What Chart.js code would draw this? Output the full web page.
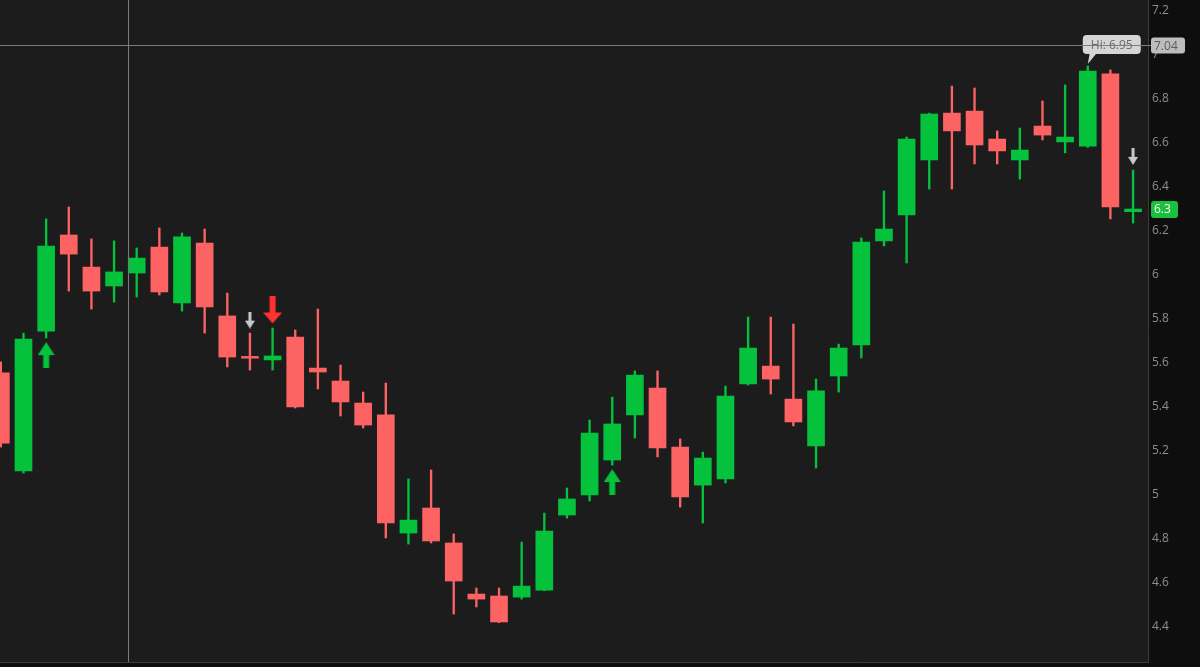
<!DOCTYPE html>
<html>
<head>
<meta charset="utf-8">
<script src="https://cdn.jsdelivr.net/npm/chart.js@4.4.1/dist/chart.umd.min.js"></script>
<style>
  html, body { margin: 0; padding: 0; background: #0e0e0e; }
  #wrap { width: 1200px; height: 667px; }
</style>
</head>
<body>
<div id="wrap"><canvas id="c" width="1200" height="667"></canvas></div>
<script>
// ---- data ----
const candleIndex = [-1,0,1,2,3,4,5,6,7,8,9,10,11,12,13,14,15,16,17,18,19,20,21,22,23,24,25,26,27,28,29,30,31,32,33,34,35,36,37,38,39,40,41,42,43,44,45,46,47,48,49];
const openVals  = [5.555,5.109,5.745,6.182,6.036,5.950,6.009,6.127,5.873,6.145,5.814,5.630,5.614,5.718,5.577,5.518,5.418,5.364,4.827,4.941,4.782,4.550,4.541,4.536,4.568,4.909,5.000,5.159,5.364,5.486,5.218,5.045,5.073,5.505,5.586,5.436,5.223,5.541,5.682,6.155,6.273,6.523,6.736,6.745,6.618,6.523,6.677,6.605,6.586,6.914,6.288];
const highVals  = [5.605,5.736,6.255,6.309,6.164,6.155,6.123,6.214,6.191,6.209,5.918,5.736,5.759,5.750,5.845,5.591,5.468,5.509,5.073,5.114,4.823,4.577,4.577,4.786,4.918,5.032,5.341,5.445,5.564,5.564,5.255,5.195,5.495,5.809,5.809,5.777,5.527,5.686,6.168,6.382,6.627,6.736,6.859,6.850,6.655,6.668,6.791,6.864,6.950,6.932,6.477];
const lowVals   = [5.218,5.100,5.714,5.927,5.845,5.877,5.900,5.909,5.836,5.736,5.582,5.568,5.568,5.395,5.482,5.359,5.305,4.805,4.777,4.782,4.459,4.491,4.420,4.527,4.565,4.895,4.973,5.136,5.259,5.173,4.945,4.873,5.055,5.500,5.459,5.314,5.123,5.468,5.623,6.132,6.055,6.391,6.391,6.505,6.505,6.436,6.614,6.555,6.580,6.255,6.236];
const closeVals = [5.236,5.709,6.132,6.095,5.927,6.014,6.077,5.923,6.173,5.855,5.627,5.622,5.632,5.400,5.559,5.423,5.318,4.873,4.886,4.791,4.609,4.527,4.423,4.586,4.836,4.982,5.282,5.323,5.545,5.214,4.991,5.168,5.450,5.668,5.527,5.332,5.473,5.668,6.150,6.209,6.618,6.732,6.655,6.591,6.564,6.568,6.636,6.627,6.927,6.309,6.300];

const yTickLabels = [4.4,4.6,4.8,5.0,5.2,5.4,5.6,5.8,6.0,6.2,6.4,6.6,6.8,7.0,7.2];

// signal markers
const markerIndex = [1, 10, 11, 26, 49];
const markerPrice = [5.636, 5.795, 5.841, 5.059, 6.539];
const markerKind  = ['buy', 'warn', 'sell', 'buy', 'warn'];

const crossIndex = 4.62;
const crossPrice = 7.047;
const crossLabel = '7.04';
const hiLabel = 'Hi: 6.95';
const hiIndex = 47;
const hiPrice = 6.95;
const lastLabel = '6.3';
const lastPrice = 6.30;

// ---- styles ----
const GREEN = '#04c23c';
const RED = '#fd6363';
const PLOT_BG = '#1c1c1c';
const AXIS_BG = '#0e0e0e';

function makeArrow(color, w, h, stemW, headH, dir) {
  const c = document.createElement('canvas');
  c.width = w; c.height = h;
  const g = c.getContext('2d');
  g.fillStyle = color;
  g.beginPath();
  const m = w / 2, s = stemW / 2;
  if (dir === 'up') {
    g.moveTo(m, 0); g.lineTo(w, headH); g.lineTo(m + s, headH); g.lineTo(m + s, h);
    g.lineTo(m - s, h); g.lineTo(m - s, headH); g.lineTo(0, headH);
  } else {
    g.moveTo(m, h); g.lineTo(w, h - headH); g.lineTo(m + s, h - headH); g.lineTo(m + s, 0);
    g.lineTo(m - s, 0); g.lineTo(m - s, h - headH); g.lineTo(0, h - headH);
  }
  g.closePath(); g.fill();
  return c;
}
const arrowImgs = {
  buy: makeArrow(GREEN, 17, 26, 6, 13, 'up'),
  sell: makeArrow('#ff3131', 19, 27, 6, 11, 'down'),
  warn: makeArrow('#c9c9c9', 10, 17, 3, 8, 'down')
};

const wickData = candleIndex.map((x, i) => ({ x, y: [lowVals[i], highVals[i]] }));
const bodyData = candleIndex.map((x, i) => ({ x, y: [Math.min(openVals[i], closeVals[i]), Math.max(openVals[i], closeVals[i])] }));
const candleColors = candleIndex.map((x, i) => closeVals[i] >= openVals[i] ? GREEN : RED);
const markerData = markerIndex.map((x, i) => ({ x, y: markerPrice[i] }));
const markerStyles = markerKind.map(k => arrowImgs[k]);

function roundRect(ctx, x, y, w, h, r) {
  ctx.beginPath();
  ctx.moveTo(x + r, y);
  ctx.lineTo(x + w - r, y); ctx.quadraticCurveTo(x + w, y, x + w, y + r);
  ctx.lineTo(x + w, y + h - r); ctx.quadraticCurveTo(x + w, y + h, x + w - r, y + h);
  ctx.lineTo(x + r, y + h); ctx.quadraticCurveTo(x, y + h, x, y + h - r);
  ctx.lineTo(x, y + r); ctx.quadraticCurveTo(x, y, x + r, y);
  ctx.closePath();
}

const decorPlugin = {
  id: 'decor',
  beforeDraw(chart) {
    const { ctx, chartArea: a } = chart;
    ctx.save();
    ctx.fillStyle = AXIS_BG;
    ctx.fillRect(0, 0, chart.width, chart.height);
    ctx.fillStyle = PLOT_BG;
    ctx.fillRect(a.left, a.top, a.right - a.left, a.bottom - a.top);
    ctx.restore();
  },
  afterDraw(chart) {
    const { ctx, chartArea: a, scales } = chart;
    const xs = scales.x, ys = scales.y;
    ctx.save();
    // borders
    ctx.strokeStyle = '#3c3c3c';
    ctx.lineWidth = 1;
    ctx.beginPath();
    ctx.moveTo(Math.round(a.right) + 0.5, 0); ctx.lineTo(Math.round(a.right) + 0.5, Math.round(a.bottom) + 0.5);
    ctx.lineTo(0, Math.round(a.bottom) + 0.5);
    ctx.stroke();

    // Hi bubble
    const hx = xs.getPixelForValue(hiIndex), hy = ys.getPixelForValue(hiPrice);
    ctx.font = '12px "Open Sans", "DejaVu Sans", sans-serif';
    const bw = 58, bh = 19, bx = hx - 5, by = hy - 31;
    ctx.fillStyle = '#d5d5d5';
    roundRect(ctx, bx, by, bw, bh, 4);
    ctx.fill();
    ctx.beginPath();
    ctx.moveTo(bx + 7, by + bh - 1); ctx.lineTo(bx + 14, by + bh - 1); ctx.lineTo(hx, hy - 2);
    ctx.closePath(); ctx.fill();
    ctx.fillStyle = '#6a6a6a';
    ctx.textAlign = 'center'; ctx.textBaseline = 'middle';
    ctx.fillText(hiLabel, bx + bw / 2, by + bh / 2 + 1);

    // crosshair
    const cx = Math.round(xs.getPixelForValue(crossIndex)) + 0.5;
    const cy = Math.round(ys.getPixelForValue(crossPrice)) + 0.5;
    ctx.strokeStyle = '#7c7c7c';
    ctx.beginPath();
    ctx.moveTo(cx, a.top); ctx.lineTo(cx, a.bottom);
    ctx.moveTo(a.left, cy); ctx.lineTo(a.right + 4, cy);
    ctx.stroke();

    // crosshair price label
    ctx.fillStyle = '#bdbdbd';
    roundRect(ctx, a.right + 3, cy - 8, 34, 16, 3);
    ctx.fill();
    ctx.fillStyle = '#5e5e5e';
    ctx.textAlign = 'left';
    ctx.font = '12px "Open Sans", "DejaVu Sans", sans-serif';
    ctx.fillText(crossLabel, a.right + 6, cy + 1);

    // last price label
    const ly = ys.getPixelForValue(lastPrice);
    ctx.fillStyle = '#1cbf3e';
    roundRect(ctx, a.right + 3, ly - 8, 27, 17, 3);
    ctx.fill();
    ctx.fillStyle = '#f2fff2';
    ctx.fillText(lastLabel, a.right + 6, ly + 1);
    ctx.restore();
  }
};

new Chart(document.getElementById('c'), {
  type: 'bar',
  data: {
    datasets: [
      { type: 'bar', data: wickData, backgroundColor: candleColors, barThickness: 1.7, grouped: false, order: 3 },
      { type: 'bar', data: bodyData, backgroundColor: candleColors, barThickness: 17, grouped: false, order: 2 },
      { type: 'scatter', data: markerData, pointStyle: markerStyles, pointRadius: 10, showLine: false, order: 1 }
    ]
  },
  options: {
    responsive: false,
    animation: false,
    events: [],
    layout: { autoPadding: false, padding: { left: 0, right: 0, top: 0, bottom: 5 } },
    plugins: { legend: { display: false }, tooltip: { enabled: false } },
    scales: {
      x: {
        type: 'linear', display: false, min: -1.0375, max: 49.66, offset: false
      },
      y: {
        position: 'right',
        min: 4.241, max: 7.25,
        grid: { display: false, drawTicks: false },
        border: { display: false },
        afterBuildTicks(scale) { scale.ticks = yTickLabels.map(v => ({ value: v })); },
        afterFit(scale) {
          scale.width = 52;
          scale.paddingTop = 0; scale.paddingBottom = 0;
          scale.paddingLeft = 0; scale.paddingRight = 0;
        },
        ticks: {
          padding: 4,
          color: '#8e8e8e',
          font: { family: '"Open Sans", "DejaVu Sans", sans-serif', size: 12 },
          callback: v => String(Math.round(v * 10) / 10)
        }
      }
    }
  },
  plugins: [decorPlugin]
});
</script>
</body>
</html>
